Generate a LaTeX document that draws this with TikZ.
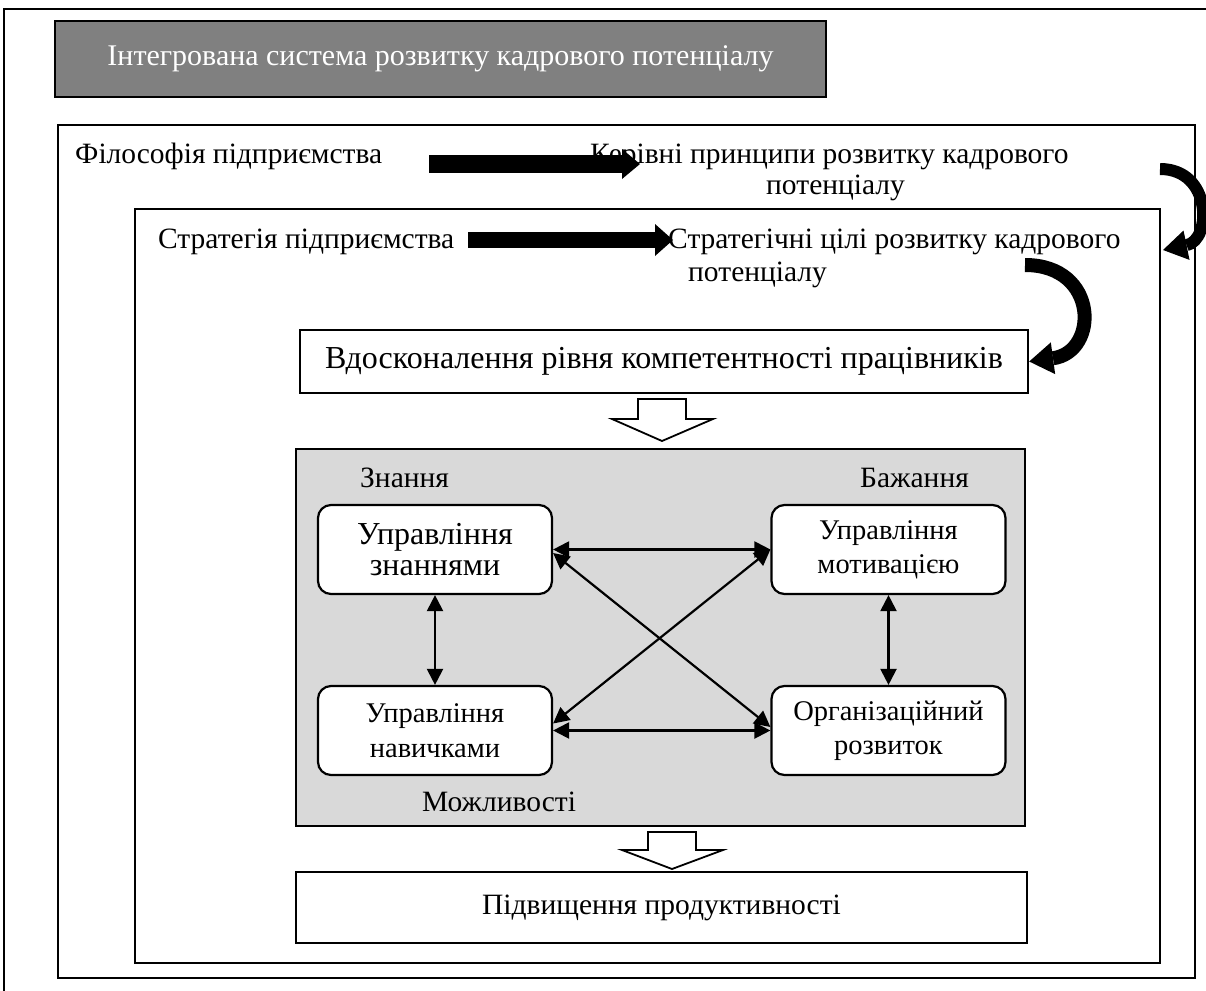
\documentclass[tikz,border=0pt]{standalone}
\usepackage{fontspec}
\setmainfont{Liberation Serif}
\usetikzlibrary{arrows.meta}
\definecolor{titlegray}{RGB}{128,128,128}
\definecolor{panelgray}{RGB}{217,217,217}
\begin{document}
\begin{tikzpicture}[x=1pt,y=-1pt,
  frame/.style={draw=black,line width=2.4pt,inner sep=0pt},
  lbl/.style={inner sep=0pt,anchor=base west,font=\fontsize{29.5}{34}\selectfont},
  rbox/.style={draw=black,line width=2.2pt,fill=white,rounded corners=13pt,inner sep=0pt,minimum width=234pt,minimum height=89pt,align=center,font=\fontsize{28.5}{34}\selectfont},
  link/.style={line width=2.2pt,{Triangle[length=16pt,width=16pt]}-{Triangle[length=16pt,width=16pt]}},
  fat/.style={-{Triangle[length=18pt,width=30pt,line width=0pt]}},
  hollow/.style={draw=black,fill=white,line width=1.8pt,line join=miter}
]
\useasboundingbox (0,0) rectangle (1206,990);
% outer frame (clipped at page edges)
\draw[line width=2.4pt] (4,1000) -- (4,9) -- (1220,9);
% title
\node[frame,fill=titlegray,line width=2.6pt,minimum width=771pt,minimum height=76pt,text=white,font=\fontsize{30}{36}\selectfont] (title) at (440.5,59) {Інтегрована система розвитку кадрового потенціалу};
% nested frames
\node[frame,minimum width=1137pt,minimum height=853pt] (boxA) at (626.5,551.5) {};
\node[frame,minimum width=1025pt,minimum height=754pt] (boxB) at (647.5,586) {};
% texts of level A and B
\node[lbl] (phil) at (75,163) {Філософія підприємства};
\node[lbl] (strat) at (158,248) {Стратегія підприємства};
% straight fat arrows
\coordinate (a1s) at (429,164);
\coordinate (a1e) at (640,164);
\draw[fat,line width=18pt] (a1s) -- (a1e);
\coordinate (a2s) at (468,240);
\coordinate (a2e) at (673,240);
\draw[fat,line width=16pt,-{Triangle[length=18pt,width=32pt,line width=0pt]}] (a2s) -- (a2e);
\node[lbl] (guide) at (590,163) {Керівні принципи розвитку кадрового};
\node[lbl] (guideb) at (766,194) {потенціалу};
\node[lbl] (goals) at (668,248) {Стратегічні цілі розвитку кадрового};
\node[lbl] (goalsb) at (688,281) {потенціалу};
% curved fat arrows
\coordinate (c1s) at (1160,169);
\coordinate (c1e) at (1163,250);
\draw[line width=12pt,-{Triangle[length=24pt,width=30pt,line width=0pt]}] (c1s) .. controls (1212,169) and (1212,240) .. (c1e);
% competence box
\node[frame,fill=white,minimum width=728pt,minimum height=63pt,font=\fontsize{32}{38}\selectfont] (comp) at (664,361.5) {Вдосконалення рівня компетентності працівників};
\coordinate (c2s) at (1025,265);
\draw[line width=14pt,-{Triangle[length=24pt,width=32pt,line width=0pt]}] (c2s) .. controls (1099,265) and (1099,352) .. (comp.east);
% hollow arrow 1
\coordinate (h1) at (662,399);
\draw[hollow,shift={(h1)}] (-24,0) -- (24,0) -- (24,20) -- (51,20) -- (0,42) -- (-50,20) -- (-24,20) -- cycle;
% grey panel
\node[frame,fill=panelgray,minimum width=729pt,minimum height=377pt] (panel) at (660.5,637.5) {};
\node[lbl] (know) at (360,487) {Знання};
\node[lbl] (wish) at (860,487) {Бажання};
\node[lbl] (poss) at (422,811) {Можливості};
\node[rbox,font=\fontsize{32}{31}\selectfont] (km) at (435,549.5) {Управління\\знаннями};
\node[rbox] (mm) at (888.5,549.5) {Управління\\мотивацією};
\node[rbox,font=\fontsize{28.5}{35}\selectfont] (sk) at (435,730.5) {Управління\\навичками};
\node[rbox] (od) at (888.5,730.5) {Організаційний\\розвиток};
\draw[link] (km.east) -- (mm.west);
\draw[link] (sk.east) -- (od.west);
\draw[link] (km.south) -- (sk.north);
\draw[link] (mm.south) -- (od.north);
\draw[link] ([yshift=-3.5pt]km.east) -- ([yshift=3.5pt]od.west);
\draw[link] (mm.west) -- ([yshift=7pt]sk.east);
% hollow arrow 2
\coordinate (h2) at (672,832);
\draw[hollow,shift={(h2)}] (-24,0) -- (24,0) -- (24,18) -- (51,18) -- (0,37) -- (-50,18) -- (-24,18) -- cycle;
% bottom box
\node[frame,fill=white,minimum width=731pt,minimum height=71pt,font=\fontsize{29.5}{36}\selectfont] (prod) at (661.5,907.5) {Підвищення продуктивності};
\end{tikzpicture}
\end{document}
